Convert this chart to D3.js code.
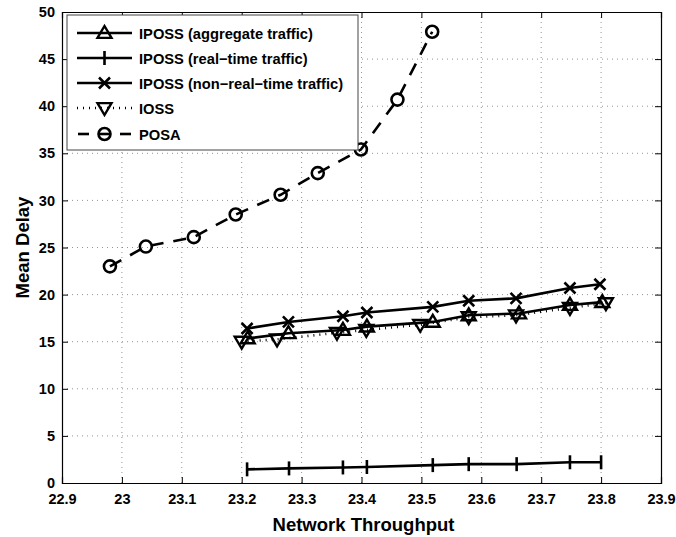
<!DOCTYPE html>
<html><head><meta charset="utf-8">
<script src="https://cdn.jsdelivr.net/npm/d3@7"></script>
<style>body{margin:0;background:#fff}svg{display:block}text{font-family:"Liberation Sans",Arial,sans-serif;font-weight:bold}</style>
</head><body><svg id="c" width="676" height="537"></svg>
<script>
const xTicks = [22.9,23,23.1,23.2,23.3,23.4,23.5,23.6,23.7,23.8,23.9];
const yTicks = [0,5,10,15,20,25,30,35,40,45,50];

const posaX = [22.98,23.04,23.12,23.19,23.265,23.327,23.399,23.46,23.518];
const posaY = [23.0,25.1,26.1,28.5,30.6,32.9,35.4,40.7,47.9];

const aggX = [23.21,23.278,23.369,23.409,23.519,23.579,23.663,23.748,23.802];
const aggY = [15.35,15.9,16.25,16.6,17.1,17.8,18.0,18.9,19.2];

const rtX = [23.209,23.279,23.369,23.409,23.519,23.579,23.659,23.748,23.8];
const rtY = [1.45,1.55,1.65,1.7,1.9,2.0,2.0,2.2,2.2];

const nrtX = [23.209,23.278,23.369,23.409,23.519,23.579,23.658,23.748,23.798];
const nrtY = [16.4,17.1,17.7,18.1,18.7,19.35,19.6,20.7,21.1];

const iossX = [23.2,23.259,23.359,23.408,23.498,23.579,23.658,23.748,23.808];
const iossY = [15.0,15.25,15.95,16.25,16.8,17.6,17.8,18.6,19.1];

const legendLabels = ["IPOSS (aggregate traffic)","IPOSS (real\u2212time traffic)","IPOSS (non\u2212real\u2212time traffic)","IOSS","POSA"];

const svg = d3.select("#c");
const L=62,R=661,T=12,B=483;
const x = d3.scaleLinear().domain([22.9,23.9]).range([L,R]);
const y = d3.scaleLinear().domain([0,50]).range([B,T]);

// grid
const g = svg.append("g");
g.selectAll(".gx").data(xTicks.slice(1,-1)).enter().append("line")
 .attr("x1",d=>x(d)).attr("x2",d=>x(d)).attr("y1",T).attr("y2",B)
 .attr("stroke","#666").attr("stroke-width",0.7).attr("stroke-dasharray","1,4");
g.selectAll(".gy").data(yTicks.slice(1,-1)).enter().append("line")
 .attr("y1",d=>y(d)).attr("y2",d=>y(d)).attr("x1",L).attr("x2",R)
 .attr("stroke","#666").attr("stroke-width",0.7).attr("stroke-dasharray","1,4");

// axes
const xb = svg.append("g").attr("transform",`translate(0,${B})`).call(d3.axisBottom(x).tickValues(xTicks).tickSize(-6).tickPadding(11).tickFormat(d=>String(+d.toFixed(1))));
const xt = svg.append("g").attr("transform",`translate(0,${T})`).call(d3.axisTop(x).tickValues(xTicks).tickSize(-6).tickFormat(""));
const yl = svg.append("g").attr("transform",`translate(${L},0)`).call(d3.axisLeft(y).tickValues(yTicks).tickSize(-6).tickPadding(7));
const yr = svg.append("g").attr("transform",`translate(${R},0)`).call(d3.axisRight(y).tickValues(yTicks).tickSize(-6).tickFormat(""));
[xb,xt,yl,yr].forEach(a=>{a.select(".domain").attr("stroke","#000").attr("stroke-width",1.2);a.selectAll(".tick line").attr("stroke","#000");});
svg.selectAll(".tick text").attr("font-size",14.5).attr("font-weight","bold").attr("fill","#000").style("font-family","Liberation Sans, Arial, sans-serif");
xb.selectAll(".tick text").attr("dy","0.71em");

svg.append("text").attr("x",(L+R)/2+2).attr("y",531).attr("text-anchor","middle").attr("font-size",18.5).text("Network Throughput");
svg.append("text").attr("transform",`translate(29,${(T+B)/2}) rotate(-90)`).attr("text-anchor","middle").attr("font-size",18.5).text("Mean Delay");

// markers
function marker(sel,type,cx,cy){
  const s=7;
  if(type==="tri"){
    sel.append("path").attr("d",`M${cx},${cy-s} L${cx+s},${cy+s*0.7} L${cx-s},${cy+s*0.7} Z`).attr("fill","none").attr("stroke","#000").attr("stroke-width",2.4);
  } else if(type==="itri"){
    sel.append("path").attr("d",`M${cx},${cy+s} L${cx+s},${cy-s*0.7} L${cx-s},${cy-s*0.7} Z`).attr("fill","none").attr("stroke","#000").attr("stroke-width",2.4);
  } else if(type==="plus"){
    sel.append("path").attr("d",`M${cx},${cy-s} V${cy+s}`).attr("stroke","#000").attr("stroke-width",2.6);
  } else if(type==="x"){
    const k=5.5;
    sel.append("path").attr("d",`M${cx-k},${cy-k} L${cx+k},${cy+k} M${cx-k},${cy+k} L${cx+k},${cy-k}`).attr("stroke","#000").attr("stroke-width",2.6);
  } else if(type==="circ"){
    sel.append("circle").attr("cx",cx).attr("cy",cy).attr("r",6).attr("fill","none").attr("stroke","#000").attr("stroke-width",2.6);
  }
}
const line = d3.line().x(d=>x(d[0])).y(d=>y(d[1]));
const series = [
 {xs:aggX,ys:aggY,m:"tri",dash:null},
 {xs:rtX,ys:rtY,m:"plus",dash:null},
 {xs:nrtX,ys:nrtY,m:"x",dash:null},
 {xs:iossX,ys:iossY,m:"itri",dash:"1,5"},
 {xs:posaX,ys:posaY,m:"circ",dash:"13,10"}
];
const plot = svg.append("g");
series.forEach(s=>{
  const pts = s.xs.map((v,i)=>[v,s.ys[i]]);
  plot.append("path").attr("d",line(pts)).attr("fill","none").attr("stroke","#000").attr("stroke-width",2.6).attr("stroke-dasharray",s.dash);
  pts.forEach(p=>marker(plot,s.m,x(p[0]),y(p[1])));
});

// legend
const lg = svg.append("g");
lg.append("rect").attr("x",67).attr("y",15).attr("width",291).attr("height",135).attr("fill","#fff").attr("stroke","#444").attr("stroke-width",1);
const rows=[33,58,83,108,134];
series.forEach((s,i)=>{
  const yy=rows[i];
  if(s.m==="circ"){
    lg.append("line").attr("x1",78).attr("x2",89).attr("y1",yy).attr("y2",yy).attr("stroke","#000").attr("stroke-width",2.6);
    lg.append("line").attr("x1",120).attr("x2",131).attr("y1",yy).attr("y2",yy).attr("stroke","#000").attr("stroke-width",2.6);
    lg.append("line").attr("x1",98).attr("x2",111).attr("y1",yy).attr("y2",yy).attr("stroke","#000").attr("stroke-width",2.6);
  } else {
    lg.append("line").attr("x1",77).attr("x2",132).attr("y1",yy).attr("y2",yy).attr("stroke","#000").attr("stroke-width",2.6).attr("stroke-dasharray",s.dash);
  }
  marker(lg,s.m,104.5,yy);
  lg.append("text").attr("x",139).attr("y",yy+5.5).attr("font-size",14.7).text(legendLabels[i]);
});
</script></body></html>
